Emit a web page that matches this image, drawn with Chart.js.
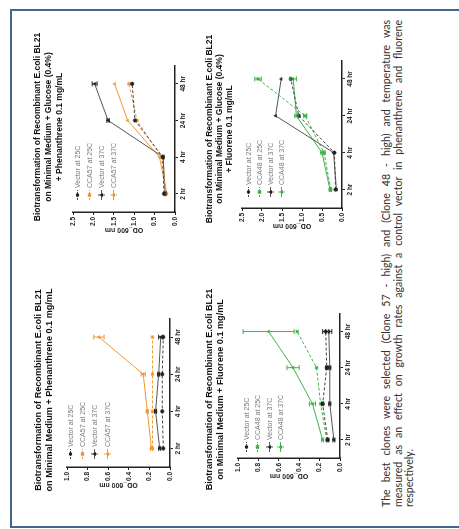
<!DOCTYPE html>
<html>
<head>
<meta charset="utf-8">
<script src="https://cdn.jsdelivr.net/npm/chart.js@4.4.1/dist/chart.umd.min.js"></script>
<style>
  html, body { margin: 0; padding: 0; width: 459px; height: 529px; overflow: hidden; background: #fff; }
  /* the slide is landscape, shown turned a quarter turn to the left */
  #slide {
    position: absolute; left: 0; top: 0; width: 529px; height: 459px;
    transform-origin: 0 0; transform: translate(0, 529px) rotate(-90deg);
    font-family: 'Liberation Sans', Arial, sans-serif; overflow: hidden;
  }
  .frame { position: absolute; left: 1px; top: 10px; width: 519px; height: 480px; border: 2px solid #46658a; box-sizing: border-box; }
  .title { position: absolute; text-align: center; font-weight: bold; color: #111; white-space: nowrap; transform: translateX(-50%); }
  .legend { position: absolute; font-size: 7px; color: #7a7a7a; }
  .legend-item { display: flex; align-items: center; white-space: nowrap; }
  .legend-item svg { margin-right: 2px; }
  canvas { position: absolute; }
  .note { position: absolute; left: 22px; top: 381px; width: 487px; font-family: Lato, 'Open Sans', sans-serif; font-size: 10.6px; line-height: 11.5px; color: #333; }
  .note div { text-align: justify; text-align-last: justify; }
  .note div.last { text-align-last: left; }
</style>
</head>
<body>
<div id="slide">
  <div class="frame"></div>
  <div class="note">
    <div>The best clones were selected (Clone 57 - high) and (Clone 48 - high) and temperature was</div>
    <div>measured as an effect on growth rates against a control vector in phenanthrene and fluorene</div>
    <div class="last">respectively.</div>
  </div>
</div>
<script>
const timepoints = ['2 hr', '4 hr', '24 hr', '48 hr'];
const labels57 = ['Vector  at 25C', 'CCA57 at 25C', 'Vector  at 37C', 'CCA57 at 37C'];
const labels48 = ['Vector  at 25C', 'CCA48 at 25C', 'Vector  at 37C', 'CCA48 at 37C'];

// Phenanthrene only
const phenVector25 = [0.065, 0.075, 0.075, 0.065];
const phenCca25 = [0.17, 0.17, 0.17, 0.17];
const phenVector37 = [0.10, 0.14, 0.11, 0.09];
const phenCca37 = [0.18, 0.22, 0.26, 0.69];
const phenCca37Err = [0.01, 0.01, 0.02, 0.05];

// Phenanthrene + glucose
const phenGlcVector25 = [0.27, 0.30, 0.98, 1.05];
const phenGlcCca25 = [0.22, 0.33, 0.93, 1.13];
const phenGlcVector37 = [0.24, 0.29, 1.64, 1.97];
const phenGlcCca37 = [0.20, 0.38, 1.16, 1.48];
const phenGlcVector37Err = [0.02, 0.02, 0.03, 0.06];

// Fluorene only
const fluVector25 = [0.12, 0.17, 0.13, 0.14];
const fluCca25 = [0.13, 0.19, 0.23, 0.42];
const fluVector37 = [0.06, 0.10, 0.10, 0.11];
const fluCca37 = [0.17, 0.27, 0.46, 0.70];
const fluCca37Err = [0.01, 0.03, 0.06, 0.25];
const fluVectorErr = [0.01, 0.01, 0.01, 0.03];

// Fluorene + glucose
const fluGlcVector25 = [0.16, 0.19, 1.08, 1.28];
const fluGlcCca25 = [0.28, 0.45, 0.92, 2.10];
const fluGlcVector37 = [0.14, 0.21, 1.66, 1.52];
const fluGlcCca37 = [0.30, 0.50, 1.14, 1.22];
const fluGlcCcaErr = [0.02, 0.03, 0.04, 0.08];

const ORANGE = '#f0982e';
const GREEN = '#3cb447';
const FONT = "'Liberation Sans', Arial, sans-serif";

// draws +/- error bars from the dataset's "errors" array
const errorBars = {
    id: 'errorBars',
    afterDatasetsDraw(chart) {
        const { ctx, scales: { y } } = chart;
        chart.data.datasets.forEach((ds, i) => {
            if (!ds.errors) return;
            const meta = chart.getDatasetMeta(i);
            ctx.save();
            ctx.strokeStyle = ds.pointBackgroundColor;
            ctx.lineWidth = 1;
            meta.data.forEach((pt, j) => {
                const e = ds.errors[j];
                if (!e) return;
                const top = y.getPixelForValue(ds.data[j] + e);
                const bot = y.getPixelForValue(ds.data[j] - e);
                ctx.beginPath();
                ctx.moveTo(pt.x, top); ctx.lineTo(pt.x, bot);
                ctx.moveTo(pt.x - 2.5, top); ctx.lineTo(pt.x + 2.5, top);
                ctx.moveTo(pt.x - 2.5, bot); ctx.lineTo(pt.x + 2.5, bot);
                ctx.stroke();
            });
            ctx.restore();
        });
    }
};

function series(label, data, colour, lineColour, style, dashed, errors) {
    return {
        label, data, errors,
        borderColor: lineColour,
        backgroundColor: colour,
        pointBackgroundColor: colour,
        pointBorderColor: colour,
        pointStyle: style,
        pointRadius: 1.8,
        pointBorderWidth: 0.5,
        borderWidth: 1,
        borderDash: dashed ? [3, 2] : [],
        tension: 0,
        clip: false
    };
}

function createLegend(box, datasets) {
    const legend = document.createElement('div');
    legend.className = 'legend';
    legend.style.left = box.legend[0] + 'px';
    legend.style.top = box.legend[1] + 'px';
    datasets.forEach(ds => {
        const item = document.createElement('div');
        item.className = 'legend-item';
        item.style.height = box.legendRow + 'px';
        const c = ds.pointBackgroundColor;
        let marker = `<circle cx="5" cy="3.5" r="1.8" fill="${c}"/>`;
        if (ds.pointStyle === 'rect') marker = `<rect x="3.3" y="1.8" width="3.4" height="3.4" fill="${c}"/>`;
        if (ds.pointStyle === 'triangle') marker = `<polygon points="5,1.5 7,5 3,5" fill="${c}"/><line x1="5" y1="0" x2="5" y2="7" stroke="${c}" stroke-width="0.8"/>`;
        const dash = ds.borderDash.length ? 'stroke-dasharray="2,1"' : '';
        item.innerHTML = `<svg width="10" height="7"><line x1="0" y1="3.5" x2="10" y2="3.5" stroke="${ds.borderColor}" stroke-width="1" ${dash}/>${marker}</svg><span>${ds.label}</span>`;
        legend.appendChild(item);
    });
    document.getElementById('slide').appendChild(legend);
}

function createTitle(box) {
    const t = document.createElement('div');
    t.className = 'title';
    t.style.left = box.titleAt[0] + 'px';
    t.style.top = box.titleAt[1] + 'px';
    t.style.fontSize = box.titleSize + 'px';
    t.style.lineHeight = box.titleLine + 'px';
    t.innerHTML = box.title.join('<br>');
    document.getElementById('slide').appendChild(t);
}

function createChart(box, datasets) {
    const [pl, pt, pr, pb] = box.plot;
    const yW = 22, xH = 13, padT = 6, padR = 4, padB = 2;
    const canvas = document.createElement('canvas');
    canvas.width = (pr - pl) + yW + padR;
    canvas.height = padT + (pb - pt) + xH + padB;
    canvas.style.left = (pl - yW) + 'px';
    canvas.style.top = (pt - padT) + 'px';
    document.getElementById('slide').appendChild(canvas);

    const axis = {
        grid: { display: true, drawOnChartArea: false, drawTicks: true, tickLength: 3, color: '#222', lineWidth: 1 },
        border: { display: true, color: '#222', width: 1.5 }
    };
    new Chart(canvas, {
        type: 'line',
        data: { labels: timepoints, datasets },
        options: {
            responsive: false,
            animation: false,
            layout: { padding: { top: padT, right: padR, bottom: padB, left: 0 } },
            plugins: { legend: { display: false }, tooltip: { enabled: false } },
            scales: {
                x: {
                    ...axis,
                    offset: true,
                    ticks: { font: { family: FONT, size: 6.5, weight: 'bold' }, color: '#222', padding: 1, maxRotation: 0, autoSkip: false },
                    afterFit: s => { s.height = xH; }
                },
                y: {
                    ...axis,
                    min: 0,
                    max: box.yMax,
                    ticks: { stepSize: box.yStep, callback: v => v.toFixed(1), font: { family: FONT, size: 6.5, weight: 'bold' }, color: '#222', padding: 2 },
                    title: { display: true, text: 'OD_600 nm', font: { family: FONT, size: 7, weight: 'bold' }, color: '#222', padding: { top: 0, bottom: 0 } },
                    afterFit: s => { s.width = yW; }
                }
            }
        },
        plugins: [errorBars]
    });
    createLegend(box, datasets);
    createTitle(box);
}

const heading = 'Biotransformation of Recombinant E.coli BL21';

createChart({
    plot: [62, 67, 211, 170], yMax: 1.0, yStep: 0.2,
    legend: [70, 64], legendRow: 12.3,
    title: [heading, 'on Minimal Medium + Phenanthrene 0.1 mg/mL'], titleAt: [139, 33], titleSize: 9.1, titleLine: 11
}, [
    series(labels57[0], phenVector25, '#222', '#444', 'circle', true),
    series(labels57[1], phenCca25, ORANGE, ORANGE, 'rect', true),
    series(labels57[2], phenVector37, '#222', '#555', 'triangle', false, [0.01, 0.01, 0.01, 0.02]),
    series(labels57[3], phenCca37, ORANGE, ORANGE, 'triangle', false, phenCca37Err)
]);

createChart({
    plot: [317, 73, 464, 175], yMax: 2.5, yStep: 0.5,
    legend: [329, 71], legendRow: 12,
    title: [heading, 'on Minimal Medium + Glucose (0.4%)', '+ Phenanthrene 0.1 mg/mL'], titleAt: [402, 31.5], titleSize: 8.5, titleLine: 11
}, [
    series(labels57[0], phenGlcVector25, '#222', '#444', 'circle', true),
    series(labels57[1], phenGlcCca25, ORANGE, ORANGE, 'rect', true),
    series(labels57[2], phenGlcVector37, '#222', '#555', 'triangle', false, phenGlcVector37Err),
    series(labels57[3], phenGlcCca37, ORANGE, ORANGE, 'triangle', false)
]);

createChart({
    plot: [71, 238, 216, 340], yMax: 1.0, yStep: 0.2,
    legend: [77, 241], legendRow: 11.3,
    title: [heading, 'on Minimal Medium + Fluorene 0.1 mg/mL'], titleAt: [139.5, 203.5], titleSize: 9.1, titleLine: 11
}, [
    series(labels48[0], fluVector25, '#222', '#444', 'circle', true, fluVectorErr),
    series(labels48[1], fluCca25, GREEN, GREEN, 'rect', true),
    series(labels48[2], fluVector37, '#222', '#555', 'triangle', false, fluVectorErr),
    series(labels48[3], fluCca37, GREEN, GREEN, 'triangle', false, fluCca37Err)
]);

createChart({
    plot: [321, 242, 469, 342], yMax: 2.5, yStep: 0.5,
    legend: [332, 242.5], legendRow: 11,
    title: [heading, 'on Minimal Medium + Glucose (0.4%)', '+ Fluorene 0.1 mg/mL'], titleAt: [400, 203.5], titleSize: 8.5, titleLine: 10
}, [
    series(labels48[0], fluGlcVector25, '#222', '#444', 'circle', true),
    series(labels48[1], fluGlcCca25, GREEN, GREEN, 'rect', true, fluGlcCcaErr),
    series(labels48[2], fluGlcVector37, '#222', '#555', 'triangle', false),
    series(labels48[3], fluGlcCca37, GREEN, GREEN, 'triangle', false, fluGlcCcaErr)
]);
</script>
</body>
</html>
